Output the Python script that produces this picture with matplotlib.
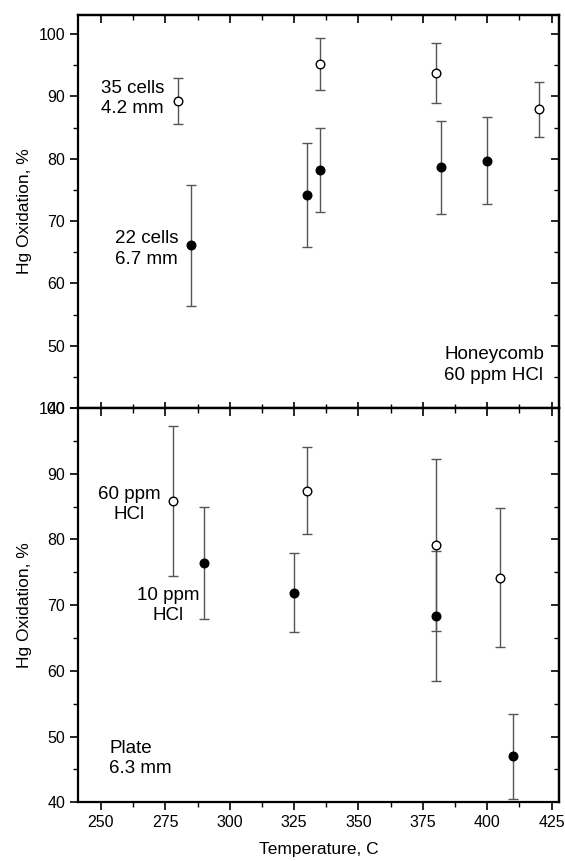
import matplotlib
matplotlib.use("Agg")
import matplotlib.pyplot as plt
from matplotlib.ticker import MultipleLocator

plt.rcParams['font.family'] = ['Liberation Sans', 'DejaVu Sans']

# Top panel: Honeycomb, 60 ppm HCl
hc35_T = [280, 335, 380, 420]
hc35_ox = [89.3, 95.2, 93.7, 87.9]
hc35_err = [3.7, 4.2, 4.8, 4.4]

hc22_T = [285, 330, 335, 382, 400]
hc22_ox = [66.1, 74.2, 78.2, 78.6, 79.7]
hc22_err = [9.7, 8.4, 6.7, 7.4, 7.0]

# Bottom panel: Plate 6.3 mm
p60_T = [278, 330, 380, 405]
p60_ox = [85.9, 87.4, 79.1, 74.2]
p60_err = [11.4, 6.6, 13.1, 10.6]

p10_T = [290, 325, 380, 410]
p10_ox = [76.4, 71.9, 68.3, 47.0]
p10_err = [8.5, 6.0, 9.9, 6.5]

x_ticks = [250, 275, 300, 325, 350, 375, 400, 425]

fig = plt.figure(figsize=(5.65, 8.61), dpi=100)
L, W = 0.1386, 0.8513
ax1 = fig.add_axes([L, 0.5261, W, 0.9829 - 0.5261])
ax2 = fig.add_axes([L, 0.0682, W, 0.5261 - 0.0682])

ecol = '#555555'
def series(ax, x, y, e, filled):
    ax.errorbar(x, y, yerr=e, fmt='o', ms=6.2,
                mfc='black' if filled else 'white', mec='black', mew=1.0,
                ecolor=ecol, elinewidth=1.0, capsize=3.5, capthick=1.0, zorder=3)

series(ax1, hc35_T, hc35_ox, hc35_err, False)
series(ax1, hc22_T, hc22_ox, hc22_err, True)
series(ax2, p60_T, p60_ox, p60_err, False)
series(ax2, p10_T, p10_ox, p10_err, True)

for ax in (ax1, ax2):
    ax.set_xlim(241.2, 428)
    ax.set_xticks(x_ticks)
    ax.xaxis.set_minor_locator(MultipleLocator(12.5))
    ax.yaxis.set_major_locator(MultipleLocator(10))
    ax.yaxis.set_minor_locator(MultipleLocator(5))
    for s in ax.spines.values():
        s.set_linewidth(1.6)
    ax.set_ylabel('Hg Oxidation, %', fontsize=12.5, labelpad=5)
    ax.tick_params(axis='both', which='major', labelsize=11.5, width=1.2, length=6)
    ax.tick_params(axis='both', which='minor', width=1.0, length=3.5)
    ax.tick_params(axis='y', which='both', left=True, right=False, direction='out')
    ax.tick_params(axis='x', which='both', bottom=True, top=False, direction='out')

ax1.set_ylim(40, 103.1)
ax2.set_ylim(40, 100)
ax1.tick_params(axis='x', which='both', labelbottom=False, direction='inout')
ax1.tick_params(axis='x', which='major', length=9)
ax1.tick_params(axis='x', which='minor', length=6)
ax2.set_xlabel('Temperature, C', fontsize=12.5, labelpad=8)

# top/right ticks point inward
for ax in (ax1, ax2):
    sx = ax.secondary_xaxis('top')
    sx.set_xticks(x_ticks)
    sx.xaxis.set_minor_locator(MultipleLocator(12.5))
    sx.tick_params(axis='x', which='both', direction='in', labeltop=False)
    sx.tick_params(which='major', length=6, width=1.2)
    sx.tick_params(which='minor', length=3.5, width=1.0)
    sx.spines['top'].set_linewidth(1.6)
    sy = ax.secondary_yaxis('right')
    sy.yaxis.set_major_locator(MultipleLocator(10))
    sy.yaxis.set_minor_locator(MultipleLocator(5))
    sy.tick_params(axis='y', which='both', direction='in', labelright=False)
    sy.tick_params(which='major', length=6, width=1.2)
    sy.tick_params(which='minor', length=3.5, width=1.0)
    sy.spines['right'].set_linewidth(1.6)

fs = 13.5
ax1.text(250, 89.6, '35 cells\n4.2 mm', fontsize=fs, ha='left', va='center', linespacing=1.25)
ax1.text(255.5, 65.5, '22 cells\n6.7 mm', fontsize=fs, ha='left', va='center', linespacing=1.25)
ax1.text(383.3, 46.9, 'Honeycomb\n60 ppm HCl', fontsize=fs, ha='left', va='center', linespacing=1.25)

ax2.text(261, 85.3, '60 ppm\nHCl', fontsize=fs, ha='center', va='center', multialignment='center', linespacing=1.25)
ax2.text(276, 70.0, '10 ppm\nHCl', fontsize=fs, ha='center', va='center', multialignment='center', linespacing=1.25)
ax2.text(253.2, 46.7, 'Plate\n6.3 mm', fontsize=fs, ha='left', va='center', linespacing=1.25)

fig.savefig('out.png', dpi=100)
